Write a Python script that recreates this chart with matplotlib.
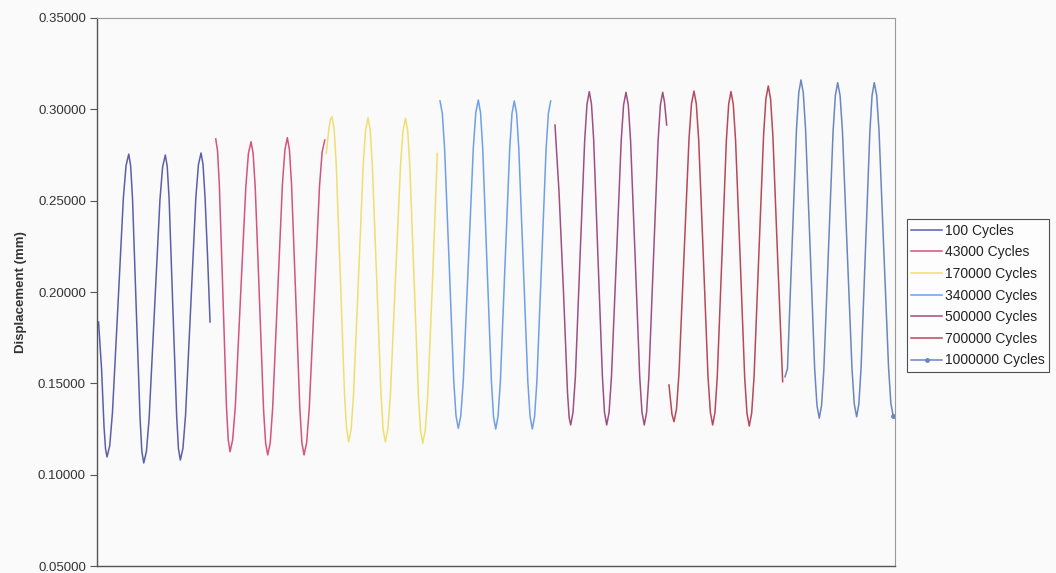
import matplotlib
matplotlib.use("Agg")
import matplotlib.pyplot as plt
from matplotlib.ticker import FormatStrFormatter

# Displacement traces recorded at successive cycle counts (x = sample position)
labels = ["100 Cycles", "43000 Cycles", "170000 Cycles", "340000 Cycles",
          "500000 Cycles", "700000 Cycles", "1000000 Cycles"]
colors = ["#5c5fa8", "#d4547e", "#f0df6e", "#6f9fe8", "#9f4f80", "#b8485a", "#6a86c0"]

x_100 = [1.5, 4.5, 7, 8.5, 10, 12.7, 15.4, 20.9, 26.3, 29.0, 31.7, 33.6, 35.5, 39.2, 43.0,
         44.8, 46.7, 49.4, 52.1, 57.5, 62.9, 65.6, 68.3, 70.2, 72.1, 75.8, 79.6, 81.4, 83.3,
         85.9, 88.5, 93.7, 98.8, 101.4, 104, 106, 108, 110.5, 113]
y_100 = [0.1836, 0.158, 0.126, 0.114, 0.1097, 0.1160, 0.1339, 0.1926, 0.2513, 0.2692,
         0.2755, 0.2691, 0.2508, 0.1910, 0.1311, 0.1128, 0.1064, 0.1128, 0.1310, 0.1907,
         0.2504, 0.2686, 0.2750, 0.2687, 0.2506, 0.1915, 0.1324, 0.1143, 0.1080, 0.1144,
         0.1325, 0.1921, 0.2516, 0.2697, 0.2761, 0.2698, 0.2518, 0.220, 0.1836]

x_43k = [118.7, 120.5, 122.3, 125.9, 129.4, 131.2, 133, 135.6, 138.3, 143.5, 148.8, 151.4,
         154, 156.1, 158.2, 162.4, 166.5, 168.6, 170.7, 173.2, 175.6, 180.5, 185.4, 187.9,
         190.3, 192.4, 194.5, 198.7, 202.8, 204.9, 207, 209.6, 212.2, 217.4, 222.5, 225.1,
         227.7]
y_43k = [0.2838, 0.2773, 0.2588, 0.1982, 0.1376, 0.1191, 0.1126, 0.1190, 0.1374, 0.1975,
         0.2575, 0.2759, 0.2823, 0.2758, 0.2573, 0.1966, 0.1358, 0.1173, 0.1108, 0.1174,
         0.1362, 0.1977, 0.2591, 0.2779, 0.2845, 0.2779, 0.2591, 0.1977, 0.1362, 0.1174,
         0.1108, 0.1174, 0.1360, 0.1970, 0.2580, 0.2766, 0.2832]

x_170k = [229.3, 232, 233.5, 235, 237.1, 239.2, 243.4, 247.5, 249.6, 251.7, 254.1, 256.5,
          261.4, 266.2, 268.6, 271, 273.2, 275.3, 279.7, 284, 286.1, 288.3, 290.8, 293.4,
          298.4, 303.5, 306.0, 308.5, 310.7, 312.8, 317.1, 321.4, 323.6, 325.7, 328.2,
          330.7, 335.5, 340.3]
y_170k = [0.2759, 0.2900, 0.2945, 0.2960, 0.2892, 0.2700, 0.2070, 0.1440, 0.1248, 0.1180,
          0.1247, 0.1439, 0.2067, 0.2695, 0.2887, 0.2954, 0.2887, 0.2695, 0.2067, 0.1439,
          0.1247, 0.1180, 0.1247, 0.1439, 0.2066, 0.2692, 0.2884, 0.2951, 0.2883, 0.2691,
          0.2062, 0.1432, 0.1240, 0.1172, 0.1240, 0.1430, 0.2060, 0.2759]

x_340k = [343, 345.3, 347.6, 352.2, 356.7, 359.0, 361.3, 363.8, 366.3, 371.3, 376.3, 378.8,
          381.3, 383.5, 385.7, 390, 394.4, 396.5, 398.7, 401.0, 403.4, 408, 412.7, 415.0,
          417.3, 419.6, 421.8, 426.3, 430.8, 433.1, 435.3, 437.6, 439.9, 444.5, 449.1,
          451.4, 453.7]
y_340k = [0.3046, 0.2978, 0.2784, 0.2150, 0.1516, 0.1322, 0.1254, 0.1322, 0.1516, 0.2153,
          0.2789, 0.2983, 0.3051, 0.2983, 0.2788, 0.2151, 0.1513, 0.1318, 0.1250, 0.1318,
          0.1512, 0.2148, 0.2784, 0.2978, 0.3046, 0.2978, 0.2784, 0.2148, 0.1512, 0.1318,
          0.1250, 0.1318, 0.1512, 0.2148, 0.2784, 0.2978, 0.3046]

x_500k = [458, 462, 466.5, 470.5, 472.2, 473.7, 476.0, 478.4, 483, 487.7, 490.0, 492.3,
          494.5, 496.7, 501, 505.4, 507.5, 509.7, 512.1, 514.5, 519.4, 524.2, 526.6, 529,
          531.3, 533.6, 538.2, 542.7, 545.0, 547.3, 549.6, 551.9, 556.5, 561.1, 563.4,
          565.7, 567.5, 569.7]
y_500k = [0.2914, 0.2550, 0.2000, 0.1450, 0.1310, 0.1272, 0.1341, 0.1538, 0.2185, 0.2831,
          0.3028, 0.3097, 0.3028, 0.2831, 0.2185, 0.1538, 0.1341, 0.1272, 0.1341, 0.1538,
          0.2183, 0.2827, 0.3024, 0.3093, 0.3024, 0.2827, 0.2183, 0.1538, 0.1341, 0.1272,
          0.1341, 0.1538, 0.2183, 0.2827, 0.3024, 0.3093, 0.3040, 0.2914]

x_700k = [572, 575, 577, 579.5, 582, 587, 592, 594.5, 597, 599.3, 601.7, 606.4, 611, 613.4,
          615.7, 618.0, 620.3, 624.9, 629.4, 631.7, 634, 636.3, 638.6, 643.2, 647.7, 650.0,
          652.3, 654.7, 657.1, 661.8, 666.6, 668.9, 671.3, 673.6, 675.9, 680.6, 685.7]
y_700k = [0.1491, 0.1330, 0.1290, 0.1359, 0.1554, 0.2195, 0.2836, 0.3031, 0.3100, 0.3031,
          0.2833, 0.2186, 0.1539, 0.1341, 0.1272, 0.1341, 0.1538, 0.2185, 0.2831, 0.3028,
          0.3097, 0.3027, 0.2830, 0.2182, 0.1533, 0.1336, 0.1266, 0.1337, 0.1538, 0.2197,
          0.2856, 0.3057, 0.3128, 0.3057, 0.2856, 0.2197, 0.1509]

x_1m = [688, 690.5, 695, 699.5, 701.8, 704, 706.3, 708.6, 713.2, 717.7, 720.0, 722.3, 724.6,
        726.9, 731.5, 736.1, 738.4, 740.7, 743.1, 745.5, 750.2, 755.0, 757.3, 759.7, 761.9,
        764.1, 768.5, 772.9, 775.1, 777.3, 779.7, 782.1, 786.8, 791.6, 793.9, 796.3]
y_1m = [0.1536, 0.1580, 0.2235, 0.2891, 0.3091, 0.3161, 0.3091, 0.2891, 0.2235, 0.1579,
        0.1379, 0.1309, 0.1379, 0.1577, 0.2228, 0.2878, 0.3076, 0.3146, 0.3076, 0.2879,
        0.2232, 0.1584, 0.1387, 0.1317, 0.1387, 0.1584, 0.2232, 0.2879, 0.3076, 0.3146,
        0.3077, 0.2879, 0.2234, 0.1587, 0.1390, 0.1321]

y_ticks = [0.05, 0.10, 0.15, 0.20, 0.25, 0.30, 0.35]

series_x = [x_100, x_43k, x_170k, x_340k, x_500k, x_700k, x_1m]
series_y = [y_100, y_43k, y_170k, y_340k, y_500k, y_700k, y_1m]

plt.rcParams["font.family"] = ["Liberation Sans", "DejaVu Sans"]

fig = plt.figure(figsize=(10.56, 5.73), dpi=100, facecolor="#fafafb")
ax = fig.add_axes([0.0919, 0.0122, 0.7556, 0.9564])
ax.set_facecolor("#fafafb")

for i, (xs, ys, lab, col) in enumerate(zip(series_x, series_y, labels, colors)):
    if i == len(labels) - 1:
        # the last trace carries a small end marker
        ax.plot(xs, ys, color=col, lw=1.1, label=lab, solid_joinstyle="round",
                marker="o", markersize=2.5, markevery=[len(xs) - 1])
    else:
        ax.plot(xs, ys, color=col, lw=1.1, label=lab, solid_joinstyle="round")

ax.set_xlim(0, 798)
ax.set_ylim(0.05, 0.35)
ax.set_yticks(y_ticks)
ax.yaxis.set_major_formatter(FormatStrFormatter("%.5f"))
ax.set_xticks([])
ax.tick_params(axis="y", direction="out", length=5, width=0.8, color="#555555",
               labelsize=9.5, labelcolor="#333333", pad=3)

for side in ("left", "bottom"):
    ax.spines[side].set_color("#555555")
    ax.spines[side].set_linewidth(1.0)
for side in ("top", "right"):
    ax.spines[side].set_color("#999999")
    ax.spines[side].set_linewidth(0.8)

ax.set_ylabel("Displacement (mm)", fontsize=9.5, fontweight="bold", color="#333333",
              labelpad=8)

leg = fig.legend(loc="upper left", bbox_to_anchor=(0.859, 0.617), fontsize=10,
                 frameon=True, fancybox=False, edgecolor="#222222", facecolor="#ffffff",
                 handlelength=2.2, handletextpad=0.2, labelspacing=0.55,
                 borderpad=0.3, borderaxespad=0.0)
leg.get_frame().set_linewidth(0.8)
for text in leg.get_texts():
    text.set_color("#222222")

fig.savefig("out.png", dpi=100, facecolor=fig.get_facecolor())
